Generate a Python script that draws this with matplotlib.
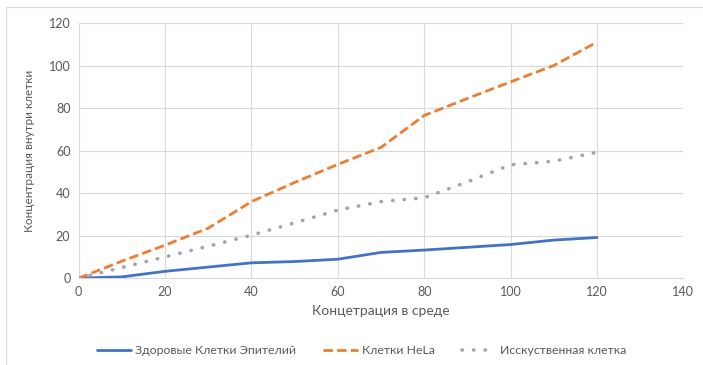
import matplotlib
matplotlib.use("Agg")
import matplotlib.pyplot as plt
from matplotlib.patches import Rectangle

# Concentration in the medium (x) and inside the cell (y)
conc_medium = [0, 10, 20, 30, 40, 50, 60, 70, 80, 90, 100, 110, 120]
healthy_epithelium = [0, 0.6, 3.2, 5.2, 7.2, 7.8, 8.9, 12.1, 13.2, 14.5, 15.8, 17.9, 19.1]
hela_cells = [0, 8, 15.5, 23.5, 36, 45, 53.5, 61.5, 76.5, 84.5, 92.3, 100, 111]
artificial_cell = [0, 5, 10, 15, 20.2, 26, 32, 36, 37.8, 45.3, 53.3, 55, 59.2]

series_names = ["Здоровые Клетки Эпителий", "Клетки HeLa", "Исскуственная клетка"]
x_label = "Концетрация в среде"
y_label = "Концентрация внутри клетки"
x_ticks = [0, 20, 40, 60, 80, 100, 120, 140]
y_ticks = [0, 20, 40, 60, 80, 100, 120]

plt.rcParams["font.family"] = ["Lato", "DejaVu Sans"]
text_color = "#595959"

fig = plt.figure(figsize=(7.03, 3.65), dpi=100)
fig.patches.append(Rectangle((0.009, -0.01), 1.2, 0.99, transform=fig.transFigure,
                             fill=False, edgecolor="#d9d9d9", linewidth=0.8))
ax = fig.add_axes([0.112, 0.238, 0.860, 0.699])

ax.plot(conc_medium, healthy_epithelium, color="#4472C4", lw=2.0,
        solid_capstyle="round", label=series_names[0], zorder=3)
ax.plot(conc_medium, hela_cells, color="#ED7D31", lw=2.0, dashes=(3.4, 1.5),
        label=series_names[1], zorder=3)
ax.plot(conc_medium, artificial_cell, color="#A5A5A5", lw=2.6, linestyle=(0, (0.1, 3.1)),
        dash_capstyle="round", label=series_names[2], zorder=3)

ax.set_xlim(0, 140)
ax.set_ylim(0, 120)
ax.set_xticks(x_ticks)
ax.set_yticks(y_ticks)
ax.grid(True, color="#d9d9d9", linewidth=0.8)
ax.set_axisbelow(True)
for side in ["top", "right", "left"]:
    ax.spines[side].set_visible(False)
ax.spines["bottom"].set_color("#d9d9d9")
ax.tick_params(length=0, labelsize=9, colors=text_color, pad=6)

ax.set_xlabel(x_label, fontsize=10, color=text_color, labelpad=5)
ax.set_ylabel(y_label, fontsize=8.5, color=text_color, labelpad=10)

ax.legend(loc="center", bbox_to_anchor=(0.468, -0.285), ncol=3, frameon=False,
          fontsize=8.8, labelcolor=text_color, handlelength=2.8, columnspacing=2.2,
          handletextpad=0.35)

fig.savefig("out.png", dpi=100)
